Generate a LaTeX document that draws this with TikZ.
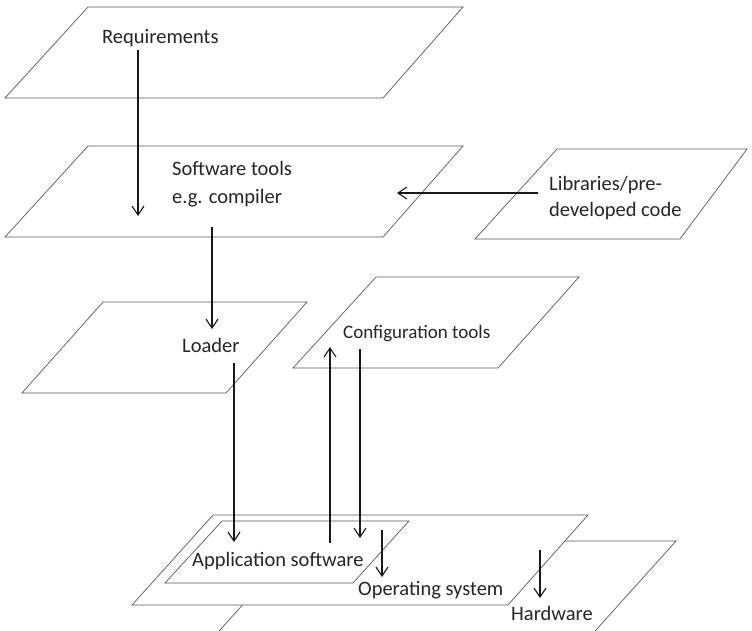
\documentclass[tikz,border=0pt]{standalone}
\usepackage{fontspec}
\setmainfont{Carlito}
\usetikzlibrary{arrows.meta}
\begin{document}
\begin{tikzpicture}[x=1pt,y=-1pt,
  plane/.style={draw=black!65,line width=0.7pt,fill=white,line join=miter},
  flow/.style={draw=black!90,line width=1.1pt,-{Straight Barb[length=9pt,width=12pt,line width=1.1pt]}},
  lbl/.style={anchor=base west,inner sep=0pt,font=\fontsize{20.5}{24}\selectfont,text=black!85},
  lblsmall/.style={lbl,font=\fontsize{19}{22}\selectfont}]
\useasboundingbox (0,0) rectangle (752,630);
\clip (0,0) rectangle (752,630);

% planes
\draw[plane] (88,7) -- (463,7) -- (383,98) -- (5,98) -- cycle;
\draw[plane] (88,146) -- (463,146) -- (383,237) -- (5,237) -- cycle;
\draw[plane] (557,149) -- (747,149) -- (680,239) -- (475,239) -- cycle;
\draw[plane] (103,302) -- (307,302) -- (226,393) -- (22,393) -- cycle;
\draw[plane] (376,277) -- (579,277) -- (498,368) -- (293,368) -- cycle;
\draw[plane] (300,541) -- (676,541) -- (578,650) -- (202,650) -- cycle;
\draw[plane] (213,515) -- (588,515) -- (508,605) -- (132,605) -- cycle;
\draw[plane] (222,521) -- (409,521) -- (353,583) -- (165,583) -- cycle;

% labels
\node[lbl] (req) at (102,43) {Requirements};
\node[lbl] (sw1) at (172,175) {Software tools};
\node[lbl] (sw2) at (172,203) {e.g. compiler};
\node[lbl] (lib1) at (549,190) {Libraries/pre-};
\node[lbl] (lib2) at (549,216) {developed code};
\node[lbl] (ld) at (182,352) {Loader};
\node[lblsmall] (cfg) at (343,338) {Configuration tools};
\node[lbl] (app) at (192,566) {Application software};
\node[lbl] (os) at (358,595) {Operating system};
\node[lbl] (hw) at (511,620) {Hardware};

% connector end points
\coordinate (reqOut) at (138,50);
\coordinate (swIn) at (138,216);
\coordinate (swOut) at (212,227);
\coordinate (ldIn) at (212,329);
\coordinate (libOut) at (538,193);
\coordinate (swSide) at (397,193);
\coordinate (ldOut) at (234,363);
\coordinate (appIn) at (234,542);
\coordinate (appUp) at (330,543);
\coordinate (cfgIn) at (330,347);
\coordinate (cfgOut) at (360,349);
\coordinate (appIn2) at (360,538);
\coordinate (appOut) at (382,530);
\coordinate (osIn) at (382,577);
\coordinate (osOut) at (540,550);
\coordinate (hwIn) at (540,598);

% connectors
\draw[flow] (reqOut) -- (swIn);
\draw[flow] (swOut) -- (ldIn);
\draw[flow] (libOut) -- (swSide);
\draw[flow] (ldOut) -- (appIn);
\draw[flow] (appUp) -- (cfgIn);
\draw[flow] (cfgOut) -- (appIn2);
\draw[flow] (appOut) -- (osIn);
\draw[flow] (osOut) -- (hwIn);
\end{tikzpicture}
\end{document}
